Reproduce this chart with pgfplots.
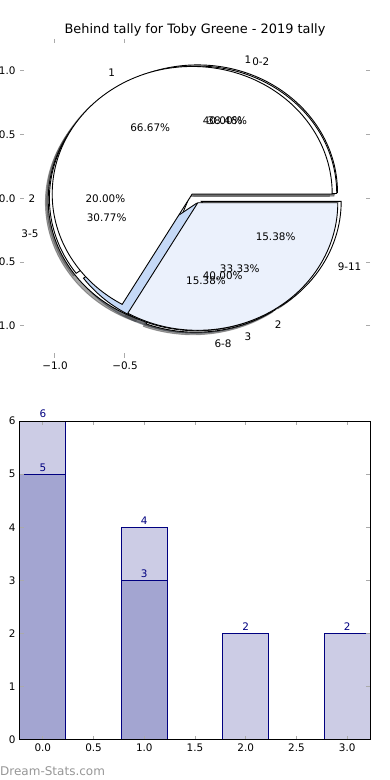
\documentclass[border=0pt]{standalone}
\usepackage{fontspec}
\setmainfont{DejaVu Sans}
\usepackage{pgfplots}
\pgfplotsset{compat=1.18}

\definecolor{pielb}{RGB}{235,241,252}
\definecolor{pieblue}{RGB}{197,217,247}
\definecolor{barlight}{RGB}{204,204,229}
\definecolor{bardark}{RGB}{163,165,209}
\definecolor{tickgray}{RGB}{170,170,170}
\definecolor{shw}{RGB}{77,77,77}
\definecolor{shlb}{RGB}{70,72,76}
\definecolor{shb}{RGB}{59,65,74}
\definecolor{lblnavy}{RGB}{0,0,128}
\definecolor{wmgray}{RGB}{150,150,150}

\newcommand\tickfont{\fontsize{10.4}{12}\selectfont}
\newcommand\piefont{\fontsize{10.4}{12}\selectfont}
\newcommand\titlefont{\fontsize{12.9}{15}\selectfont}

% wedge: centre x, centre y, start angle, end angle, style
\newcommand{\pwedge}[5]{%
  \filldraw[#5] (axis cs:#1,#2) -- ++(#3:140pt and 127.5pt)
    arc[start angle=#3, end angle=#4, x radius=140pt, y radius=127.5pt] -- cycle;}

\begin{document}
\begin{tikzpicture}[x=1pt,y=1pt]
\path[use as bounding box] (0,0) rectangle (390,780);
\clip (0,0) rectangle (390,780);

% pie A : 0-2 = 5, 3-5 = 4, 6-8 = 2, 9-11 = 2 (total 13)
\pgfmathsetmacro\Aa{360*5/13}
\pgfmathsetmacro\Ab{360*(5+4)/13}
\pgfmathsetmacro\Ac{360*(5+4+2)/13}
% pie B : 1 = 2, 2 = 1, 3 = 2 (total 5)
\pgfmathsetmacro\Ba{360*2/5}
\pgfmathsetmacro\Bb{360*(2+1)/5}
% pie C : 1 = 2, 2 = 1 (total 3)
\pgfmathsetmacro\Ca{360*2/3}

\node[anchor=base, font=\titlefont] at (195,746.5) {Behind tally for Toby Greene - 2019 tally};

\begin{axis}[
  at={(20pt,422.25pt)}, anchor=south west,
  scale only axis, width=350pt, height=318.75pt,
  xmin=-1.25, xmax=1.25, ymin=-1.25, ymax=1.25,
  axis line style={draw=none},
  xtick={-1,-0.5}, xticklabels={−1.0,−0.5},
  ytick={-1,-0.5,0,0.5,1}, yticklabels={−1.0,−0.5,0.0,0.5,1.0},
  tick align=inside, major tick length=4.3pt,
  tick style={tickgray, line width=1pt},
  ticklabel style={font=\tickfont, inner sep=0pt},
  xticklabel shift=4pt, yticklabel shift=4.3pt,
  clip=false,
]
% shadows
\pwedge{-0.00227}{0.02675}{0}{\Aa}{fill=shw, draw=shw, opacity=0.5, line width=0.9pt}
\pwedge{-0.06855}{-0.03197}{\Aa}{\Ab}{fill=shw, draw=shw, opacity=0.5, line width=0.9pt}
\pwedge{-0.01397}{-0.06964}{\Ab}{\Ac}{fill=shw, draw=shw, opacity=0.5, line width=0.9pt}
\pwedge{0.02427}{-0.04324}{\Ac}{360}{fill=shw, draw=shw, opacity=0.5, line width=0.9pt}
\pwedge{-0.00764}{0.01804}{0}{\Ba}{fill=shw, draw=shw, opacity=0.5, line width=0.9pt}
\pwedge{-0.06}{-0.02}{\Ba}{\Bb}{fill=shw, draw=shw, opacity=0.5, line width=0.9pt}
\pwedge{-0.00764}{-0.05804}{\Bb}{360}{fill=shb, draw=shb, opacity=0.5, line width=0.9pt}
\pwedge{-0.04}{0.01464}{0}{\Ca}{fill=shw, draw=shw, opacity=0.5, line width=0.9pt}
\pwedge{0}{-0.05464}{\Ca}{360}{fill=shlb, draw=shlb, opacity=0.5, line width=0.9pt}
% pie A
\pwedge{0.01773}{0.04675}{0}{\Aa}{fill=white, draw=black, line width=0.9pt}
\pwedge{-0.04855}{-0.01197}{\Aa}{\Ab}{fill=white, draw=black, line width=0.9pt}
\pwedge{0.00603}{-0.04964}{\Ab}{\Ac}{fill=white, draw=black, line width=0.9pt}
\pwedge{0.04427}{-0.02324}{\Ac}{360}{fill=white, draw=black, line width=0.9pt}
% pie B
\pwedge{0.01236}{0.03804}{0}{\Ba}{fill=white, draw=black, line width=0.9pt}
\pwedge{-0.04}{0}{\Ba}{\Bb}{fill=white, draw=black, line width=0.9pt}
\pwedge{0.01236}{-0.03804}{\Bb}{360}{fill=pieblue, draw=black, line width=0.9pt}
% pie C
\pwedge{-0.02}{0.03464}{0}{\Ca}{fill=white, draw=black, line width=0.9pt}
\pwedge{0.02}{-0.03464}{\Ca}{360}{fill=pielb, draw=black, line width=0.9pt}
% labels pie A
\node[anchor=west, inner sep=0pt, font=\piefont] at (axis cs:0.40779,1.07527) {0-2};
\node[anchor=east, inner sep=0pt, font=\piefont] at (axis cs:-1.11658,-0.27522) {3-5};
\node[anchor=west, inner sep=0pt, font=\piefont] at (axis cs:0.13862,-1.14162) {6-8};
\node[anchor=west, inner sep=0pt, font=\piefont] at (axis cs:1.01828,-0.53443) {9-11};
\node[inner sep=0pt, font=\piefont] at (axis cs:0.23049,0.60776) {38.46\%};
\node[inner sep=0pt, font=\piefont] at (axis cs:-0.63111,-0.15556) {30.77\%};
\node[inner sep=0pt, font=\piefont] at (axis cs:0.07835,-0.64526) {15.38\%};
\node[inner sep=0pt, font=\piefont] at (axis cs:0.57555,-0.30207) {15.38\%};
% labels pie B
\node[anchor=west, inner sep=0pt, font=\piefont] at (axis cs:0.35228,1.08421) {1};
\node[anchor=east, inner sep=0pt, font=\piefont] at (axis cs:-1.14,0) {2};
\node[anchor=west, inner sep=0pt, font=\piefont] at (axis cs:0.35228,-1.08421) {3};
\node[inner sep=0pt, font=\piefont] at (axis cs:0.19777,0.60868) {40.00\%};
\node[inner sep=0pt, font=\piefont] at (axis cs:-0.64,0) {20.00\%};
\node[inner sep=0pt, font=\piefont] at (axis cs:0.19777,-0.60868) {40.00\%};
% labels pie C
\node[anchor=east, inner sep=0pt, font=\piefont] at (axis cs:-0.57,0.98727) {1};
\node[anchor=west, inner sep=0pt, font=\piefont] at (axis cs:0.57,-0.98727) {2};
\node[inner sep=0pt, font=\piefont] at (axis cs:-0.32,0.55426) {66.67\%};
\node[inner sep=0pt, font=\piefont] at (axis cs:0.32,-0.55426) {33.33\%};
\end{axis}

\begin{axis}[
  at={(20pt,40pt)}, anchor=south west,
  scale only axis, width=350pt, height=319pt,
  xmin=-0.225, xmax=3.225, ymin=0, ymax=6,
  xtick={0,0.5,1,1.5,2,2.5,3}, xticklabels={0.0,0.5,1.0,1.5,2.0,2.5,3.0},
  ytick={0,1,2,3,4,5,6}, yticklabels={0,1,2,3,4,5,6},
  axis line style={black, line width=1pt},
  axis on top=true,
  tick align=inside, major tick length=4.3pt,
  tick style={tickgray, line width=1pt},
  ticklabel style={font=\tickfont, inner sep=0pt},
  xticklabel shift=4pt, yticklabel shift=4.3pt,
  /pgf/number format/assume math mode=true,
  clip=false,
]
\addplot[ybar, bar width=0.45, bar shift=0pt, fill=barlight, draw=lblnavy, line width=1pt,
  nodes near coords, nodes near coords style={font=\tickfont, text=lblnavy, inner sep=0pt, anchor=south, yshift=2.5pt}]
  coordinates {(0,6) (1,4) (2,2) (3,2)};
\addplot[ybar, bar width=0.45, bar shift=0pt, fill=bardark, draw=lblnavy, line width=1pt,
  nodes near coords, nodes near coords style={font=\tickfont, text=lblnavy, inner sep=0pt, anchor=south, yshift=2.5pt}]
  coordinates {(0,5) (1,3)};
\end{axis}

\node[anchor=west, inner sep=0pt, text=wmgray, font=\fontsize{12}{14}\selectfont] at (0,9) {Dream-Stats.com};
\end{tikzpicture}
\end{document}
